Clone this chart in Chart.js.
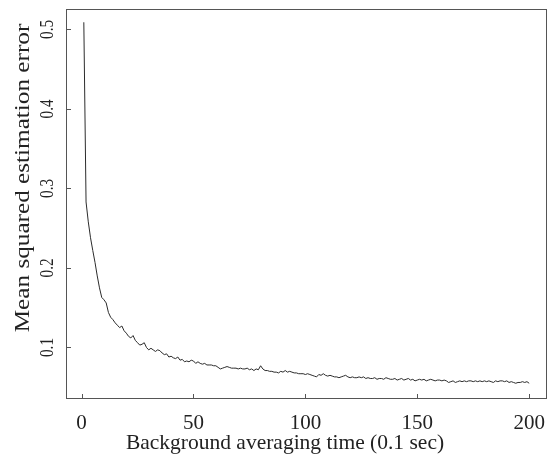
<!DOCTYPE html>
<html>
<head>
<meta charset="utf-8">
<script src="https://cdn.jsdelivr.net/npm/chart.js@4/dist/chart.umd.min.js"></script>
<style>
  html, body { margin: 0; padding: 0; background: #fff; }
  #wrap { width: 549px; height: 456px; position: relative; }
</style>
</head>
<body>
<div id="wrap"><canvas id="mseChart"></canvas></div>
<script>
// mean squared estimation error per averaging step
const mse = [
  0.509, 0.283, 0.258, 0.238, 0.222, 0.207, 0.190, 0.175, 0.163, 0.160,
  0.156, 0.144, 0.138, 0.135, 0.131, 0.128, 0.125, 0.127, 0.121, 0.118,
  0.114, 0.112, 0.115, 0.109, 0.106, 0.103, 0.104, 0.106, 0.100, 0.097,
  0.099, 0.097, 0.095, 0.097, 0.096, 0.093, 0.091, 0.092, 0.088, 0.089,
  0.087, 0.086, 0.088, 0.084, 0.085, 0.082, 0.083, 0.082, 0.084, 0.083,
  0.080, 0.082, 0.080, 0.079, 0.080, 0.078, 0.078, 0.078, 0.077, 0.077,
  0.075, 0.073, 0.074, 0.075, 0.076, 0.075, 0.074, 0.074, 0.074, 0.073,
  0.074, 0.073, 0.073, 0.074, 0.072, 0.073, 0.071, 0.073, 0.072, 0.077,
  0.073, 0.071, 0.071, 0.070, 0.070, 0.069, 0.069, 0.068, 0.070, 0.069,
  0.071, 0.069, 0.070, 0.069, 0.068, 0.068, 0.067, 0.067, 0.067, 0.066,
  0.067, 0.066, 0.065, 0.064, 0.063, 0.066, 0.065, 0.067, 0.065, 0.064,
  0.065, 0.064, 0.063, 0.063, 0.062, 0.063, 0.064, 0.065, 0.063, 0.062,
  0.063, 0.062, 0.062, 0.063, 0.062, 0.063, 0.061, 0.062, 0.061, 0.061,
  0.062, 0.060, 0.061, 0.061, 0.060, 0.062, 0.061, 0.060, 0.060, 0.061,
  0.059, 0.060, 0.061, 0.059, 0.060, 0.061, 0.059, 0.060, 0.058, 0.059,
  0.060, 0.059, 0.060, 0.058, 0.059, 0.060, 0.059, 0.058, 0.059, 0.059,
  0.058, 0.059, 0.058, 0.056, 0.057, 0.058, 0.056, 0.057, 0.058, 0.057,
  0.058, 0.057, 0.058, 0.058, 0.057, 0.058, 0.057, 0.058, 0.057, 0.058,
  0.057, 0.058, 0.057, 0.056, 0.058, 0.057, 0.058, 0.058, 0.057, 0.058,
  0.056, 0.057, 0.056, 0.055, 0.056, 0.056, 0.057, 0.056, 0.057, 0.055
];
// time steps 1..200 (units of 0.1 sec)
const times = mse.map((_, i) => i + 1);

const xTickValues = [0, 50, 100, 150, 200];
const yTickValues = [0.1, 0.2, 0.3, 0.4, 0.5];

const xTitle = 'Background averaging time (0.1 sec)';
const yTitle = 'Mean squared estimation error';

const SERIF = '"Liberation Serif", "Times New Roman", serif';

// draws rotated text, stretched along its length by sx
function vText(ctx, txt, x, y, sx) {
  ctx.save();
  ctx.translate(x, y);
  ctx.rotate(-Math.PI / 2);
  ctx.scale(sx, 1);
  ctx.fillText(txt, 0, 0);
  ctx.restore();
}

// R-style box, inward ticks, rotated y labels
const rFrame = {
  id: 'rFrame',
  afterDraw(chart) {
    const { ctx, chartArea: a, scales: { x, y } } = chart;
    ctx.save();
    ctx.strokeStyle = '#555';
    ctx.lineWidth = 1;
    ctx.strokeRect(Math.round(a.left) + 0.5, Math.round(a.top) + 0.5,
      Math.round(a.width) - 1, Math.round(a.height) - 1);

    ctx.beginPath();
    x.ticks.forEach(t => {
      const px = Math.round(x.getPixelForValue(t.value)) + 0.5;
      ctx.moveTo(px, a.bottom);
      ctx.lineTo(px, a.bottom - 5);
    });
    y.ticks.forEach(t => {
      const py = Math.round(y.getPixelForValue(t.value)) + 0.5;
      ctx.moveTo(a.left, py);
      ctx.lineTo(a.left + 5, py);
    });
    ctx.stroke();

    ctx.fillStyle = '#222';
    ctx.textAlign = 'center';
    ctx.textBaseline = 'alphabetic';
    ctx.font = '21px ' + SERIF;
    x.ticks.forEach(t => {
      ctx.fillText(t.label, x.getPixelForValue(t.value), 429);
    });

    ctx.font = '19px ' + SERIF;
    y.ticks.forEach(t => {
      vText(ctx, t.label, 53, y.getPixelForValue(t.value), 0.8);
    });

    ctx.font = '21.5px ' + SERIF;
    ctx.fillText(xTitle, 285, 449);
    ctx.font = '21px ' + SERIF;
    vText(ctx, yTitle, 28.5, 178, 1.2);
    ctx.restore();
  }
};

new Chart(document.getElementById('mseChart'), {
  type: 'line',
  data: {
    labels: times,
    datasets: [{
      data: mse,
      borderColor: '#2b2b2b',
      borderWidth: 1,
      pointRadius: 0,
      tension: 0,
      fill: false
    }]
  },
  options: {
    responsive: true,
    maintainAspectRatio: false,
    animation: false,
    layout: { padding: { top: 9, right: 2, left: 0, bottom: 0 } },
    plugins: { legend: { display: false }, tooltip: { enabled: false } },
    scales: {
      x: {
        type: 'linear',
        min: -6.96,
        max: 207.96,
        grid: { display: false },
        border: { display: false },
        afterBuildTicks: s => { s.ticks = xTickValues.map(v => ({ value: v })); },
        ticks: { display: false },
        afterTickToLabelConversion: s => { s.ticks.forEach(t => { t.label = String(t.value); }); },
        afterFit: s => { s.height = 57; }
      },
      y: {
        min: 0.0352,
        max: 0.5257,
        grid: { display: false },
        border: { display: false },
        afterBuildTicks: s => { s.ticks = yTickValues.map(v => ({ value: v })); },
        ticks: { display: false },
        afterTickToLabelConversion: s => { s.ticks.forEach(t => { t.label = t.value.toFixed(1); }); },
        afterFit: s => { s.width = 66; }
      }
    }
  },
  plugins: [rFrame]
});
</script>
</body>
</html>
